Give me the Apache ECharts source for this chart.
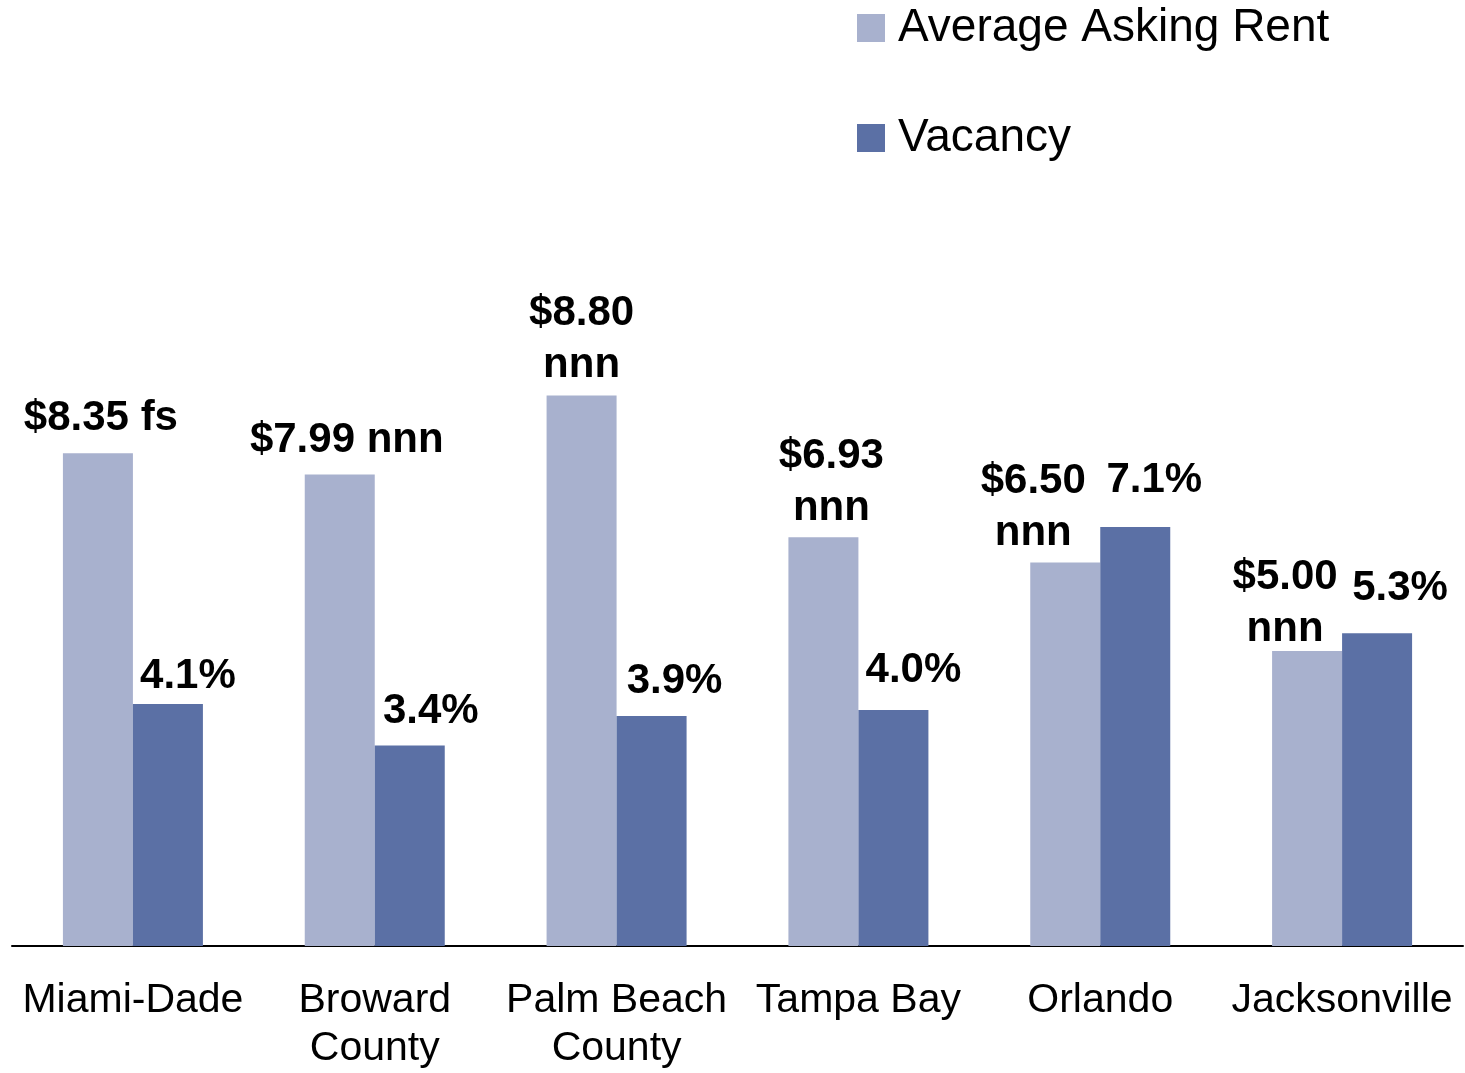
<!DOCTYPE html>
<html>
<head>
<meta charset="utf-8">
<script src="https://cdn.jsdelivr.net/npm/echarts@6/dist/echarts.min.js"></script>
<style>
html,body{margin:0;padding:0;background:#fff;}
#chart{width:1465px;height:1073px;}
</style>
</head>
<body>
<div id="chart"></div>
<script>
const categories = ['Miami-Dade', 'Broward\nCounty', 'Palm Beach\nCounty', 'Tampa Bay', 'Orlando', 'Jacksonville'];
const rentValues = [8.35, 7.99, 9.33, 6.93, 6.50, 5.00];
const rentLabels = ['$8.35 fs', '$7.99 nnn', '$8.80\nnnn', '$6.93\nnnn', '$6.50\nnnn', '$5.00\nnnn'];
const vacancyValues = [4.1, 3.4, 3.9, 4.0, 7.1, 5.3];
const vacancyLabels = ['4.1%', '3.4%', '3.9%', '4.0%', '7.1%', '5.3%'];

// label placement tweaks (style only)
const rentLabelOffsets = [[3, -1], [7, 0], [0, 4], [8, 5], [-32, 5], [-22, 12]];
const vacancyLabelOffsets = [[20, 6], [21, 0], [23, 0], [20, -6], [19, -13], [23, -11]];

const labelFont = { fontFamily: 'Liberation Sans, Arial, sans-serif', fontWeight: 'bold', fontSize: 42, lineHeight: 52, color: '#000' };

const chart = echarts.init(document.getElementById('chart'));
chart.setOption({
  animation: false,
  backgroundColor: '#fff',
  legend: {
    orient: 'vertical',
    left: 857,
    top: 5,
    padding: 0,
    itemWidth: 28,
    itemHeight: 28,
    itemGap: 64,
    icon: 'rect',
    textStyle: { fontFamily: 'Liberation Sans, Arial, sans-serif', fontSize: 46, lineHeight: 45, color: '#000', padding: [0, 0, 0, 8] },
    data: ['Average Asking Rent', 'Vacancy']
  },
  grid: { left: 12, right: 2, top: 356, height: 595 },
  xAxis: {
    type: 'category',
    data: categories,
    axisLine: { lineStyle: { color: '#000', width: 2 } },
    axisTick: { show: false },
    axisLabel: { interval: 0, margin: 31, fontFamily: 'Liberation Sans, Arial, sans-serif', fontSize: 41, lineHeight: 48, color: '#000' }
  },
  yAxis: { type: 'value', min: 0, max: 10, show: false, splitLine: { show: false } },
  series: [
    {
      name: 'Average Asking Rent',
      type: 'bar',
      barWidth: 70,
      barGap: '0%',
      itemStyle: { color: '#A8B1CE' },
      label: Object.assign({ show: true, position: 'top', distance: 8, formatter: p => rentLabels[p.dataIndex] }, labelFont),
      data: rentValues.map((v, i) => ({ value: v, label: { offset: rentLabelOffsets[i] } }))
    },
    {
      name: 'Vacancy',
      type: 'bar',
      barWidth: 70,
      barGap: '0%',
      itemStyle: { color: '#5B70A5' },
      label: Object.assign({ show: true, position: 'top', distance: 8, formatter: p => vacancyLabels[p.dataIndex] }, labelFont),
      data: vacancyValues.map((v, i) => ({ value: v, label: { offset: vacancyLabelOffsets[i] } }))
    }
  ]
});
</script>
</body>
</html>
